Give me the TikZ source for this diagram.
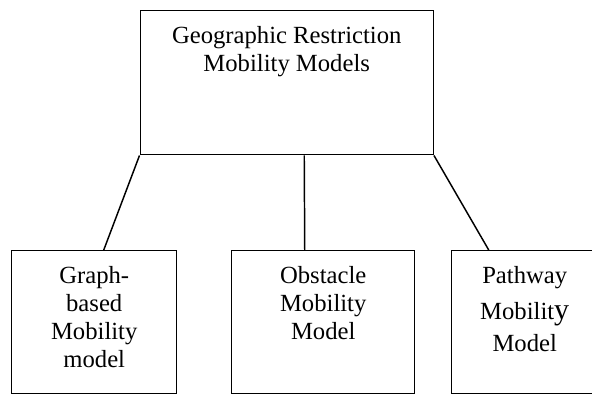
\documentclass[tikz,border=0pt]{standalone}
\usepackage{fontspec}
\setmainfont{Liberation Serif}
\usetikzlibrary{calc}
\newcommand{\boxlines}[1]{\parbox[t]{210pt}{\centering #1}}

\begin{document}
\begin{tikzpicture}[x=0.75pt,y=-0.75pt,
    box/.style={draw, line width=1.1pt, inner sep=0pt, anchor=north west},
    lbl/.style={inner sep=0pt, anchor=base, font=\fontsize{18.5}{21.2}\selectfont},
    link/.style={line width=1.1pt}]
                % Frame
                \useasboundingbox (0,0) rectangle (592,394);
                
                % Boxes
                \node[box, minimum width=219.75pt, minimum height=108pt] (geo) at (139.5,10) {};
                \node[box, minimum width=123.75pt, minimum height=107.25pt] (graph) at (11,250) {};
                \node[box, minimum width=137.25pt, minimum height=107.25pt] (obstacle) at (231,250) {};
                \node[box, minimum width=109.5pt, minimum height=107.25pt] (pathway) at (451,250) {};
                
                % Texts
                \node[lbl] (geotext) at ($(geo.north)+(0,33)$)
                    {\boxlines{Geographic Restriction\\ Mobility Models}};
                \node[lbl] (graphtext) at ($(graph.north)+(0,33)$)
                    {\boxlines{Graph-\\ based\\ Mobility\\ model}};
                \node[lbl] (obstacletext) at ($(obstacle.north)+(0,33)$)
                    {\boxlines{Obstacle\\ Mobility\\ Model}};
                \node[lbl] (pathwaytext) at ($(pathway.north)+(0,33)$)
                    {\boxlines{Pathway\\[6.4pt] Mobilit{\fontsize{22.5}{22}\selectfont y}\\[2.6pt] Model}};
                
                % Links
                \draw[link] (geo.south west) -- ($(graph.north)+(9.5,0)$);
                \draw[link] ($(geo.south)+(17.5,0)$) -- ($(obstacle.north)+(-18.5,0)$);
                \draw[link] (geo.south east) -- ($(pathway.north)+(-36,0)$);
\end{tikzpicture}
\end{document}
